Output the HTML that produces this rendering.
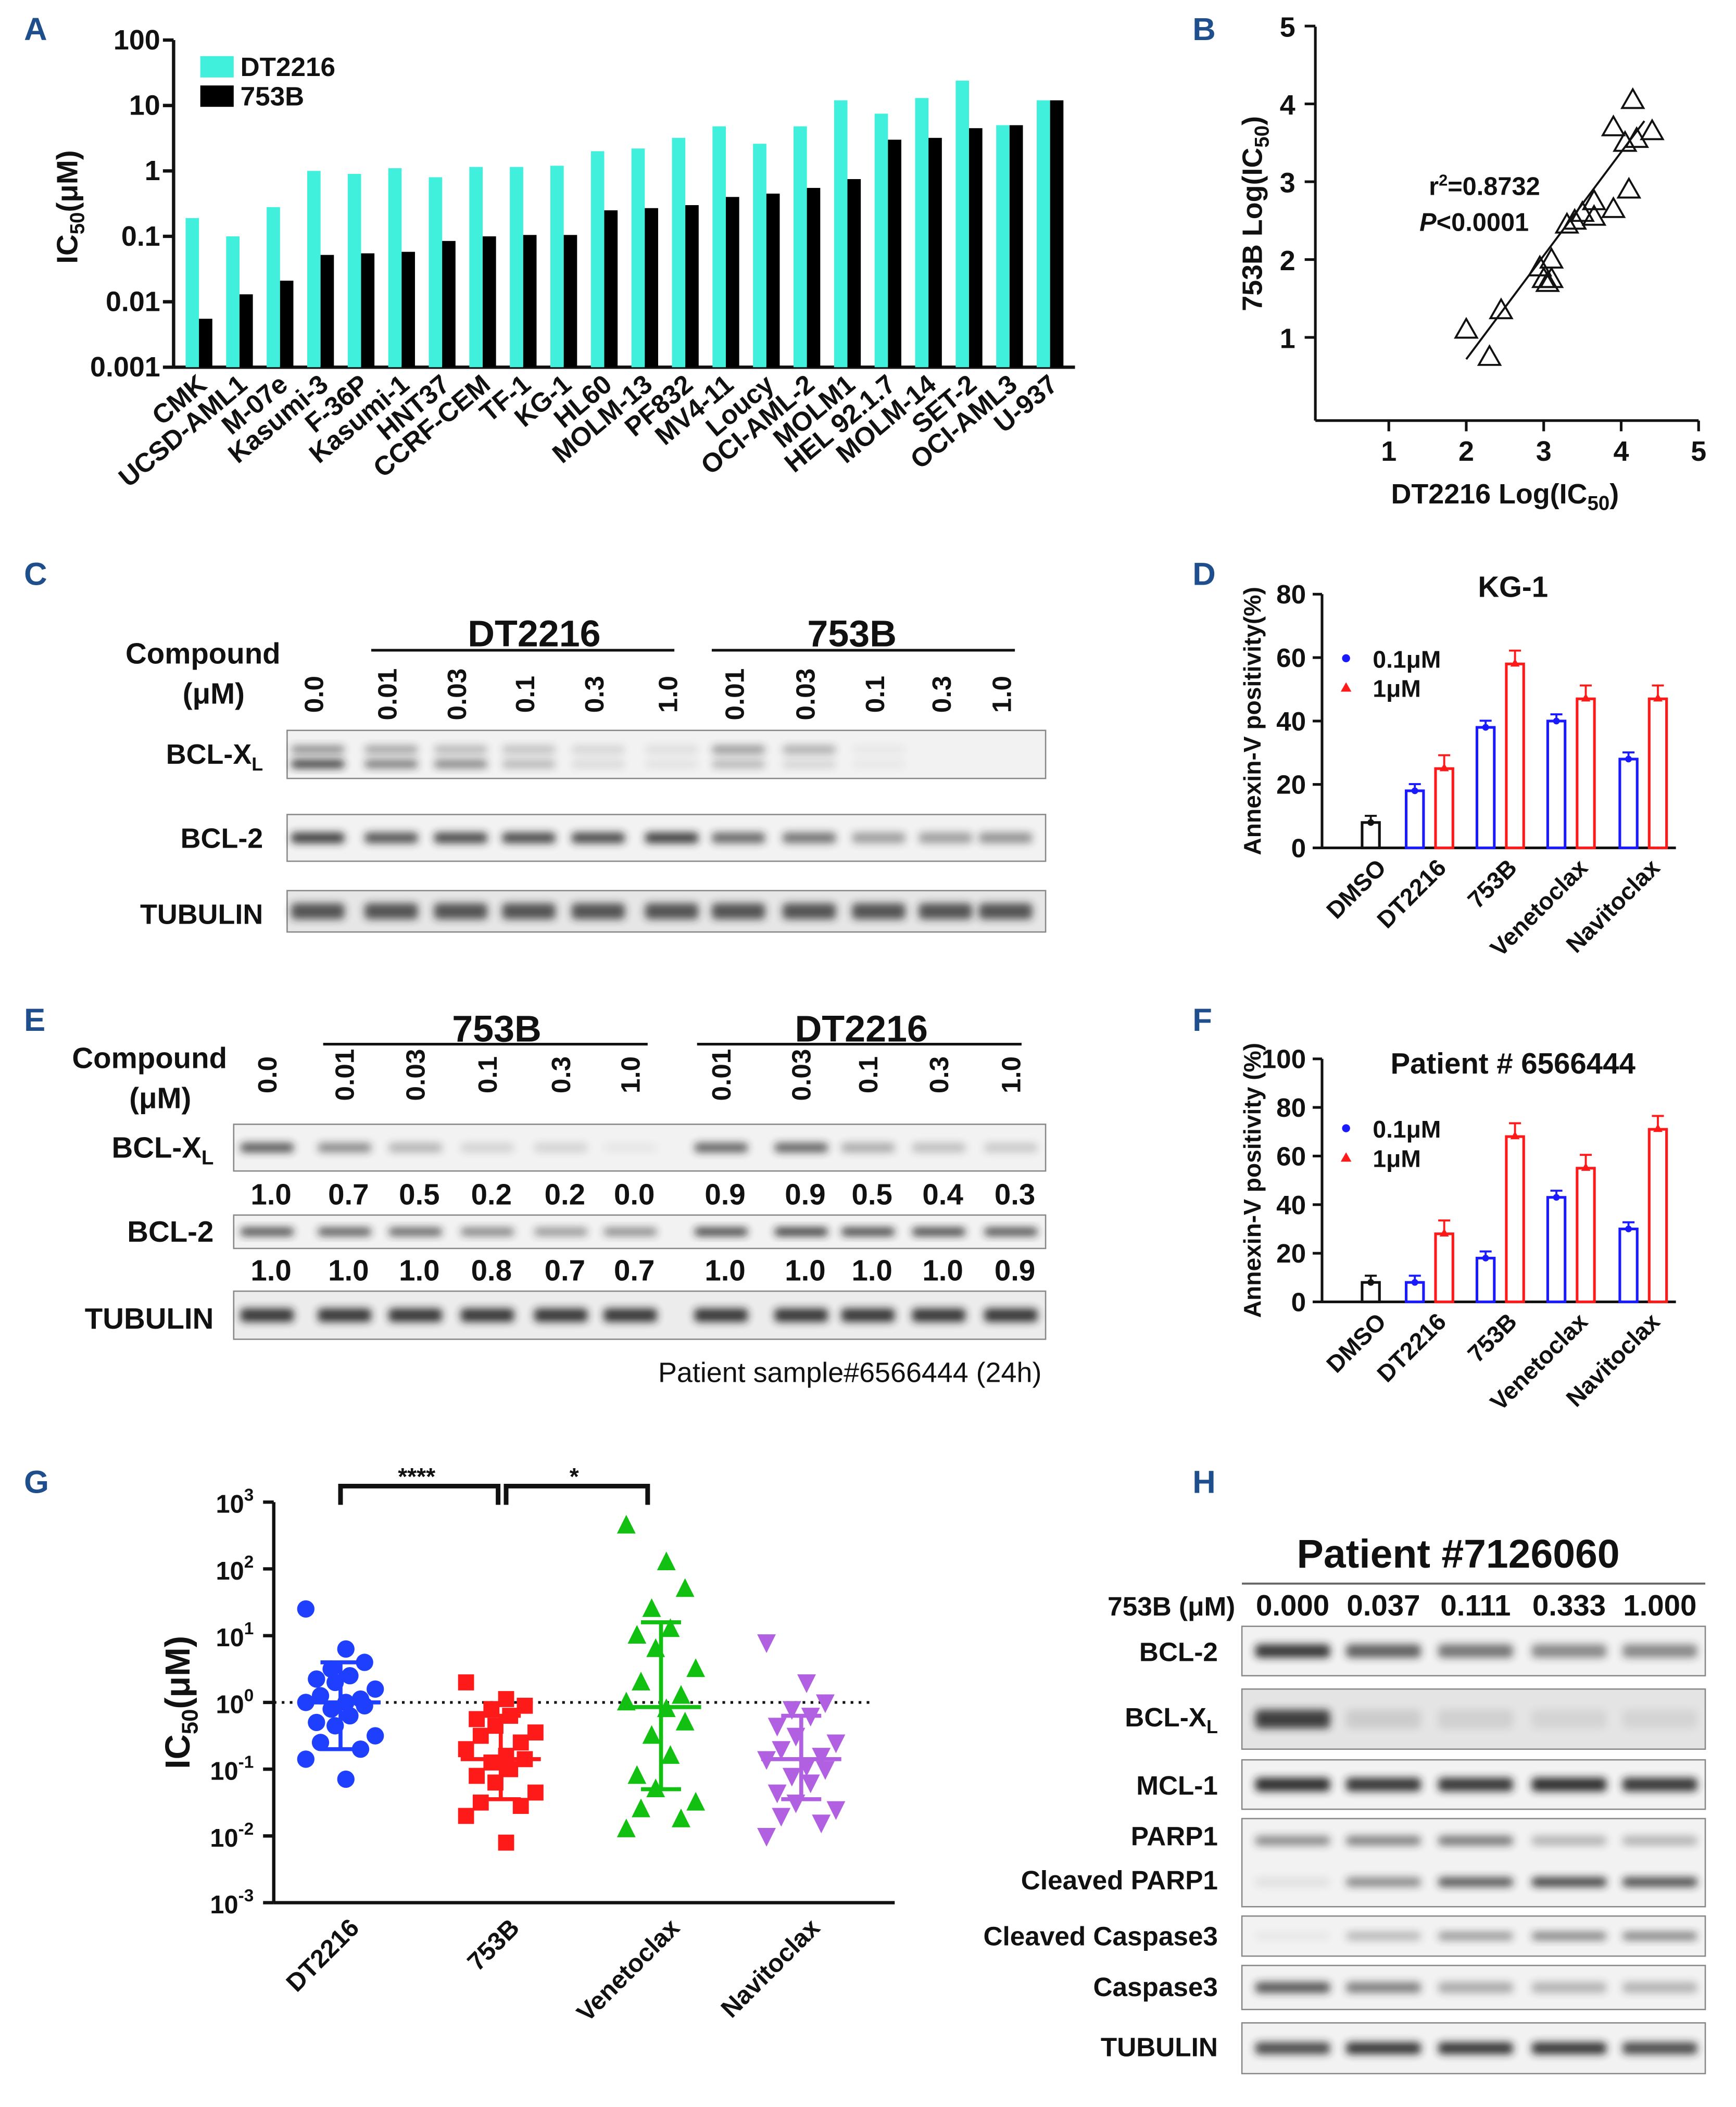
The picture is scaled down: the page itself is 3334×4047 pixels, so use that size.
<!DOCTYPE html>
<html><head><meta charset="utf-8"><style>
html,body{margin:0;padding:0;background:#fff}
svg{display:block}
text{font-family:"Liberation Sans",Arial,sans-serif;font-weight:bold;fill:#111}
</style></head><body>
<svg id="fig" xmlns="http://www.w3.org/2000/svg" width="3334" height="4047" viewBox="0 0 1300 1578">
<defs><filter id="blur" x="-20%" y="-80%" width="140%" height="260%"><feGaussianBlur stdDeviation="3"/></filter></defs>
<g id="root"></g>
</svg>
<script>
// ---------- DATA ----------
const cellLines=["CMK","UCSD-AML1","M-07e","Kasumi-3","F-36P","Kasumi-1","HNT37","CCRF-CEM","TF-1","KG-1","HL60","MOLM-13","PF832","MV4-11","Loucy","OCI-AML-2","MOLM1","HEL 92.1.7","MOLM-14","SET-2","OCI-AML3","U-937"];
const dt2216IC50=[0.19,0.1,0.28,1.0,0.9,1.1,0.8,1.15,1.15,1.2,2.0,2.2,3.2,4.8,2.6,4.8,12,7.5,13,24,5,12];
const b753IC50=[0.0055,0.013,0.021,0.052,0.055,0.058,0.085,0.1,0.105,0.105,0.25,0.27,0.3,0.4,0.45,0.55,0.75,3.0,3.2,4.5,5,12];
const aTicks=["100","10","1","0.1","0.01","0.001"];
const scatterX=[2.0,2.3,2.45,2.95,3.0,3.05,3.1,3.1,3.3,3.4,3.5,3.65,3.65,3.9,3.9,4.05,4.1,4.2,4.4,4.15];
const scatterY=[1.1,0.75,1.35,1.9,1.75,1.7,1.75,2.0,2.45,2.5,2.6,2.55,2.75,2.65,3.7,3.5,2.9,3.55,3.65,4.05];
const treatments=["DMSO","DT2216","753B","Venetoclax","Navitoclax"];
const kg1Low=[8,18,38,40,28], kg1High=[null,25,58,47,47];
const patLow=[8,8,18,43,30], patHigh=[null,28,68,55,71];
const gGroups=["DT2216","753B","Venetoclax","Navitoclax"];
const gDT=[1.4,0.8,0.6,0.5,0.4,0.35,0.3,0.2,0.1,0.05,0,0,-0.05,-0.1,-0.2,-0.3,-0.35,-0.5,-0.6,-0.7,-0.85,-1.15];
const g753=[0.3,0.05,-0.05,-0.1,-0.2,-0.25,-0.35,-0.45,-0.5,-0.6,-0.7,-0.8,-0.85,-0.9,-1.0,-1.1,-1.2,-1.35,-1.5,-1.55,-1.7,-2.1];
const gVen=[2.65,2.1,1.7,1.4,1.1,1.0,0.8,0.5,0.3,0.1,0,-0.1,-0.3,-0.5,-0.8,-1.1,-1.3,-1.5,-1.6,-1.75,-1.9];
const gNav=[0.9,0.3,0.0,-0.1,-0.2,-0.35,-0.5,-0.6,-0.7,-0.8,-0.85,-0.95,-1.0,-1.1,-1.2,-1.35,-1.5,-1.6,-1.7,-1.8,-2.0];
const gMean=[0,-0.85,-0.07,-0.85], gLo=[-0.7,-1.45,-1.3,-1.45], gHi=[0.6,-0.2,1.2,-0.2];
const eRow1=["1.0","0.7","0.5","0.2","0.2","0.0","0.9","0.9","0.5","0.4","0.3"];
const eRow2=["1.0","1.0","1.0","0.8","0.7","0.7","1.0","1.0","1.0","1.0","0.9"];
const doses=["0.0","0.01","0.03","0.1","0.3","1.0","0.01","0.03","0.1","0.3","1.0"];
const hDoses=["0.000","0.037","0.111","0.333","1.000"];

// ---------- helpers ----------
const NS="http://www.w3.org/2000/svg";
const root=document.getElementById('root');
function el(tag,attrs,parent,txt){const e=document.createElementNS(NS,tag);for(const k in attrs)e.setAttribute(k,attrs[k]);if(txt!==undefined)e.textContent=txt;(parent||root).appendChild(e);return e;}
function T(x,y,s,size,anchor,parent,extra){const e=el('text',Object.assign({x:x,y:y,'font-size':size,'text-anchor':anchor||'start'},extra||{}),parent,s);return e;}
function L(x1,y1,x2,y2,w,parent,col){return el('line',{x1:x1,y1:y1,x2:x2,y2:y2,stroke:col||'#111','stroke-width':w||2},parent);}
function grp(name){const g=el('g',{});return g;}

[["A",18,30],["B",893,30],["C",18,438],["D",893,438],["E",18,772],["F",893,772],["G",18,1118],["H",893,1118]].forEach(p=>{
 const t=T(p[1],p[2],p[0],24,'start',null,{fill:'#1f4e8c',style:'fill:#1f4e8c'});
 
 
});

// ---------- Panel A ----------
(function(){
 const g=grp('panel-a-bar-chart');
 const x0=130,yTop=30,dec=49;
 const y=v=>yTop+(2-Math.log10(v))*dec;
 const yBase=y(0.001);
 L(x0,yTop,x0,yBase,2.5,g);L(x0,yBase,805,yBase,2.5,g);
 aTicks.forEach((t,i)=>{const yy=yTop+i*dec;L(x0-8,yy,x0,yy,2.5,g);
  const tt=T(x0-10,yy+7,t,21,'end',g);});
 const yt=T(0,0,'',22,'middle',g,{transform:'translate(58,155) rotate(-90)'});
 yt.innerHTML='IC<tspan font-size="15" dy="5">50</tspan><tspan dy="-5">(μM)</tspan>';
 
 const sp=30.35,bw=10;
 cellLines.forEach((c,i)=>{
  const gx=139+i*sp;
  const r1=el('rect',{x:gx,y:y(dt2216IC50[i]),width:bw,height:yBase-y(dt2216IC50[i]),fill:'#40f0dc'},g);
  
  const r2=el('rect',{x:gx+bw,y:y(b753IC50[i]),width:bw,height:yBase-y(b753IC50[i]),fill:'#000'},g);
  
  const lt=T(0,0,c,20,'end',g,{transform:`translate(${gx+17},${yBase+15}) rotate(-40)`});
  
 });
 const lg=grp('legend');g.appendChild(lg);
 el('rect',{x:150,y:42,width:25,height:16,fill:'#40f0dc'},lg);T(180,57,'DT2216',20,'start',lg);
 el('rect',{x:150,y:64,width:25,height:16,fill:'#000'},lg);T(180,79,'753B',20,'start',lg);
})();

// ---------- Panel B ----------
(function(){
 const g=grp('panel-b-scatter');
 const X=v=>982+v*58,Y=v=>311-v*58.3;
 L(985,20,985,315,2,g);L(985,315,1272,315,2,g);
 [1,2,3,4,5].forEach(v=>{L(977,Y(v),985,Y(v),2,g);T(970,Y(v)+8,v,21,'end',g);
  L(X(v),315,X(v),323,2,g);T(X(v),345,v,21,'middle',g);});
 const ya=T(0,0,'',21,'middle',g,{transform:'translate(945,160) rotate(-90)'});
 ya.innerHTML='753B Log(IC<tspan font-size="15" dy="5">50</tspan><tspan dy="-5">)</tspan>';
 
 const xa=T(1127,377,'',21,'middle',g);xa.innerHTML='DT2216 Log(IC<tspan font-size="15" dy="5">50</tspan><tspan dy="-5">)</tspan>';
 
 L(X(2.0),Y(0.72),X(4.3),Y(3.78),1.5,g);
 scatterX.forEach((v,i)=>{const cx=X(v),cy=Y(scatterY[i]);
  const p=el('polygon',{points:`${cx},${cy-8} ${cx-8},${cy+6} ${cx+8},${cy+6}`,fill:'none',stroke:'#111','stroke-width':1.5},g);
  });
 const r=T(1070,146,'',19,'start',g);r.innerHTML='r<tspan font-size="12" dy="-7">2</tspan><tspan dy="7">=0.8732</tspan>';
 const pt=T(1063,173,'',19,'start',g);pt.innerHTML='<tspan font-style="italic">P</tspan>&lt;0.0001';
})();

function blot(g,x,y,w,h,lanesX,intens,opts){
 opts=opts||{};
 el('rect',{x:x,y:y,width:w,height:h,fill:opts.bg||'#f2f2f2',stroke:'#888','stroke-width':1},g);
 const bh=opts.bh||8;
 (opts.rows||[0.5]).forEach((ry,ri)=>{
 lanesX.forEach((lx,i)=>{const a=(Array.isArray(intens[0])?intens[ri][i]:intens[i]);if(a<=0.02)return;
  el('rect',{x:lx-(opts.bw||20),y:y+h*ry-bh/2,width:(opts.bw||20)*2,height:bh,rx:3,fill:'#222',opacity:a,filter:'url(#blur)'},g);});
 });
}

// ---------- Panel C ----------
(function(){
 const g=grp('panel-c-western-blot');
 T(152,497,'Compound',22,'middle',g);T(160,527,'(μM)',22,'middle',g);
 const lx=[235,290,342,393,445,500,550,603,655,705,750];
 doses.forEach((d,i)=>T(0,0,d,20,'middle',g,{transform:`translate(${lx[i]+7},${520}) rotate(-90)`}));
 L(278,487,505,487,2,g);T(400,484,'DT2216',28,'middle',g);
 L(533,487,760,487,2,g);T(638,484,'753B',28,'middle',g);
 const b1=T(197,572,'',21,'end',g);b1.innerHTML='BCL-X<tspan font-size="14" dy="5">L</tspan>';
 T(197,635,'BCL-2',21,'end',g);T(197,692,'TUBULIN',21,'end',g);
 const c=lx.map(v=>v+3);
 blot(g,215,547,568,36,c,[[0.5,0.4,0.3,0.25,0.15,0.1,0.45,0.35,0.05,0.02,0.02],[0.9,0.6,0.55,0.3,0.12,0.08,0.3,0.15,0.05,0,0]],{rows:[0.4,0.7],bh:6});
 blot(g,215,610,568,35,c,[0.85,0.75,0.8,0.8,0.8,0.85,0.65,0.6,0.4,0.4,0.45],{bh:8});
 blot(g,215,667,568,31,c,[0.75,0.75,0.75,0.75,0.75,0.75,0.75,0.75,0.75,0.75,0.75],{bh:12,bg:'#e6e6e6'});
})();

// ---------- Panel E ----------
(function(){
 const g=grp('panel-e-western-blot');
 T(112,800,'Compound',22,'middle',g);T(120,830,'(μM)',22,'middle',g);
 const lx=[200,258,311,365,420,472,540,600,650,703,757];
 doses.forEach((d,i)=>T(0,0,d,20,'middle',g,{transform:`translate(${lx[i]+7},${805}) rotate(-90)`}));
 L(242,782,485,782,2,g);T(372,780,'753B',28,'middle',g);
 L(522,782,765,782,2,g);T(645,780,'DT2216',28,'middle',g);
 const b1=T(160,867,'',22,'end',g);b1.innerHTML='BCL-X<tspan font-size="15" dy="5">L</tspan>';
 T(160,930,'BCL-2',22,'end',g);T(160,995,'TUBULIN',22,'end',g);
 blot(g,175,842,608,35,lx,[0.75,0.5,0.3,0.15,0.15,0.05,0.7,0.7,0.35,0.25,0.2],{bh:7});
 blot(g,175,910,608,25,lx,[0.8,0.75,0.7,0.55,0.45,0.5,0.85,0.9,0.85,0.85,0.8],{bh:6});
 blot(g,175,967,608,36,lx,[0.9,0.9,0.9,0.9,0.9,0.9,0.9,0.9,0.9,0.9,0.9],{bh:10,bg:'#ececec'});
 eRow1.forEach((v,i)=>T(lx[i]+3,902,v,22,'middle',g));
 eRow2.forEach((v,i)=>T(lx[i]+3,959,v,22,'middle',g));
 T(780,1035,'Patient sample#6566444 (24h)',21,'end',g,{'font-weight':'normal',style:'font-weight:normal'});
})();

function annexin(name,y0,y100,maxV,step,low,high,title,ytitle,ty){
 const g=grp(name);
 const Y=v=>y0-(v/maxV)*(y0-y100);
 L(990,y100,990,y0,2,g);L(990,y0,1255,y0,2,g);
 for(let v=0;v<=maxV;v+=step){L(983,Y(v),990,Y(v),2,g);T(978,Y(v)+7,v,20,'end',g);}
 T(1133,ty,title,22,'middle',g);
 T(0,0,ytitle,18,'middle',g,{transform:`translate(944,${(y0+y100)/2}) rotate(-90)`});
 const cx=[1027,1072,1125,1178,1232];
 treatments.forEach((t,i)=>{
  const lt=T(0,0,t,18,'end',g,{transform:`translate(${cx[i]+12},${y0+16}) rotate(-45)`});
  
  const col=i===0?'#111':'#1a1aff';
  const bx=i===0?cx[i]-7:cx[i]-19;
  const r=el('rect',{x:bx,y:Y(low[i]),width:13,height:y0-Y(low[i]),fill:'none',stroke:col,'stroke-width':2},g);
  
  L(bx+6.5,Y(low[i])-5,bx+6.5,Y(low[i]),1.5,g,col);L(bx+2,Y(low[i])-5,bx+11,Y(low[i])-5,1.5,g,col);
  el('circle',{cx:bx+6.5,cy:Y(low[i]),r:2.5,fill:col},g);
  if(high[i]!=null){
   const hx=cx[i]+3;
   const r2=el('rect',{x:hx,y:Y(high[i]),width:13,height:y0-Y(high[i]),fill:'none',stroke:'#ff1a1a','stroke-width':2},g);
   
   L(hx+6.5,Y(high[i])-10,hx+6.5,Y(high[i]),1.5,g,'#ff1a1a');L(hx+2,Y(high[i])-10,hx+11,Y(high[i])-10,1.5,g,'#ff1a1a');
   el('polygon',{points:`${hx+6.5},${Y(high[i])-4} ${hx+3},${Y(high[i])+2} ${hx+10},${Y(high[i])+2}`,fill:'#ff1a1a'},g);
  }
 });
 const lg=grp('legend');g.appendChild(lg);
 const ly=y100+(name.indexOf('d')>0?48:52);
 el('circle',{cx:1008,cy:ly,r:3,fill:'#1a1aff'},lg);T(1028,ly+7,'0.1μM',18,'start',lg);
 el('polygon',{points:`1008,${ly+18} 1004,${ly+25} 1012,${ly+25}`,fill:'#ff1a1a'},lg);T(1028,ly+29,'1μM',18,'start',lg);
}
annexin('panel-d-kg1-bars',635,445,80,20,kg1Low,kg1High,'KG-1','Annexin-V positivity(%)',447);
annexin('panel-f-patient-bars',975,793,100,20,patLow,patHigh,'Patient # 6566444','Annexin-V positivity (%)',804);

// ---------- Panel G ----------
(function(){
 const g=grp('panel-g-dot-plot');
 const Y=v=>1275-v*50;
 L(205,1125,205,1425,2.5,g);L(205,1425,670,1425,2.5,g);
 for(let e=3;e>=-3;e--){L(197,Y(e),205,Y(e),2.5,g);
  const t=T(190,Y(e)+8,'',19,'end',g);t.innerHTML='10<tspan font-size="13" dy="-9">'+(e<0?'-'+(-e):e)+'</tspan>';
  }
 const yt=T(0,0,'',26,'middle',g,{transform:'translate(142,1275) rotate(-90)'});
 yt.innerHTML='IC<tspan font-size="17" dy="6">50</tspan><tspan dy="-6">(μM)</tspan>';
 
 L(205,1275,652,1275,2,g).setAttribute('stroke-dasharray','2,4');
 const cx=[255,375,495,600];const cols=['#1f3fff','#ff1a1a','#12c012','#b060e0'];
 const sets=[gDT,g753,gVen,gNav];
 sets.forEach((arr,k)=>{
  const lt=T(0,0,gGroups[k],19,'end',g,{transform:`translate(${cx[k]+15},${1445}) rotate(-45)`});
  
  arr.forEach((v,i)=>{const x=cx[k]+((i*7)%5-2)*11+(i%2?4:-4),y=Y(v);let m;
   if(k===0)m=el('circle',{cx:x,cy:y,r:6.5,fill:cols[k]},g);
   else if(k===1)m=el('rect',{x:x-6,y:y-6,width:12,height:12,fill:cols[k]},g);
   else if(k===2)m=el('polygon',{points:`${x},${y-8} ${x-7},${y+6} ${x+7},${y+6}`,fill:cols[k]},g);
   else m=el('polygon',{points:`${x},${y+8} ${x-7},${y-6} ${x+7},${y-6}`,fill:cols[k]},g);
   });
  L(cx[k]-30,Y(gMean[k]),cx[k]+30,Y(gMean[k]),3,g,cols[k]);
  L(cx[k],Y(gLo[k]),cx[k],Y(gHi[k]),3,g,cols[k]);
  L(cx[k]-15,Y(gLo[k]),cx[k]+15,Y(gLo[k]),3,g,cols[k]);L(cx[k]-15,Y(gHi[k]),cx[k]+15,Y(gHi[k]),3,g,cols[k]);
 });
 const br=grp('significance-brackets');g.appendChild(br);
 el('polyline',{points:'255,1127 255,1113 373,1113 373,1127',fill:'none',stroke:'#111','stroke-width':3.5},br);
 el('polyline',{points:'379,1127 379,1113 485,1113 485,1127',fill:'none',stroke:'#111','stroke-width':3.5},br);
 T(312,1112,'****',18,'middle',br);T(430,1112,'*',18,'middle',br);
})();

// ---------- Panel H ----------
(function(){
 const g=grp('panel-h-western-blot');
 T(1092,1174,'Patient #7126060',30,'middle',g);
 L(930,1186,1277,1186,1.5,g,'#666');
 T(925,1210,'753B (μM)',20,'end',g);
 const lx=[968,1036,1105,1175,1243];
 hDoses.forEach((d,i)=>T(lx[i],1210,d,22,'middle',g));
 T(912,1244,'BCL-2',20,'end',g);
 blot(g,930,1218,347,37,lx,[0.9,0.7,0.6,0.5,0.5],{bw:28,bh:10});
 const bx=T(912,1293,'',20,'end',g);bx.innerHTML='BCL-X<tspan font-size="14" dy="5">L</tspan>';
 blot(g,930,1265,347,45,lx,[0.85,0.12,0.1,0.08,0.08],{bw:28,bh:14,bg:'#e4e4e4'});
 T(912,1344,'MCL-1',20,'end',g);
 blot(g,930,1318,347,37,lx,[0.95,0.9,0.9,0.95,0.9],{bw:28,bh:10});
 T(912,1382,'PARP1',20,'end',g);T(912,1415,'Cleaved PARP1',20,'end',g);
 blot(g,930,1362,347,66,lx,[[0.5,0.55,0.6,0.3,0.3],[0.08,0.5,0.75,0.85,0.8]],{bw:28,bh:7,rows:[0.25,0.72]});
 T(912,1457,'Cleaved Caspase3',20,'end',g);
 blot(g,930,1435,347,30,lx,[0.05,0.3,0.45,0.55,0.55],{bw:28,bh:6});
 T(912,1495,'Caspase3',20,'end',g);
 blot(g,930,1472,347,33,lx,[0.75,0.55,0.35,0.3,0.3],{bw:28,bh:8});
 T(912,1540,'TUBULIN',20,'end',g);
 blot(g,930,1515,347,38,lx,[0.8,0.9,0.9,0.9,0.8],{bw:28,bh:9});
})();
</script>
</body></html>
